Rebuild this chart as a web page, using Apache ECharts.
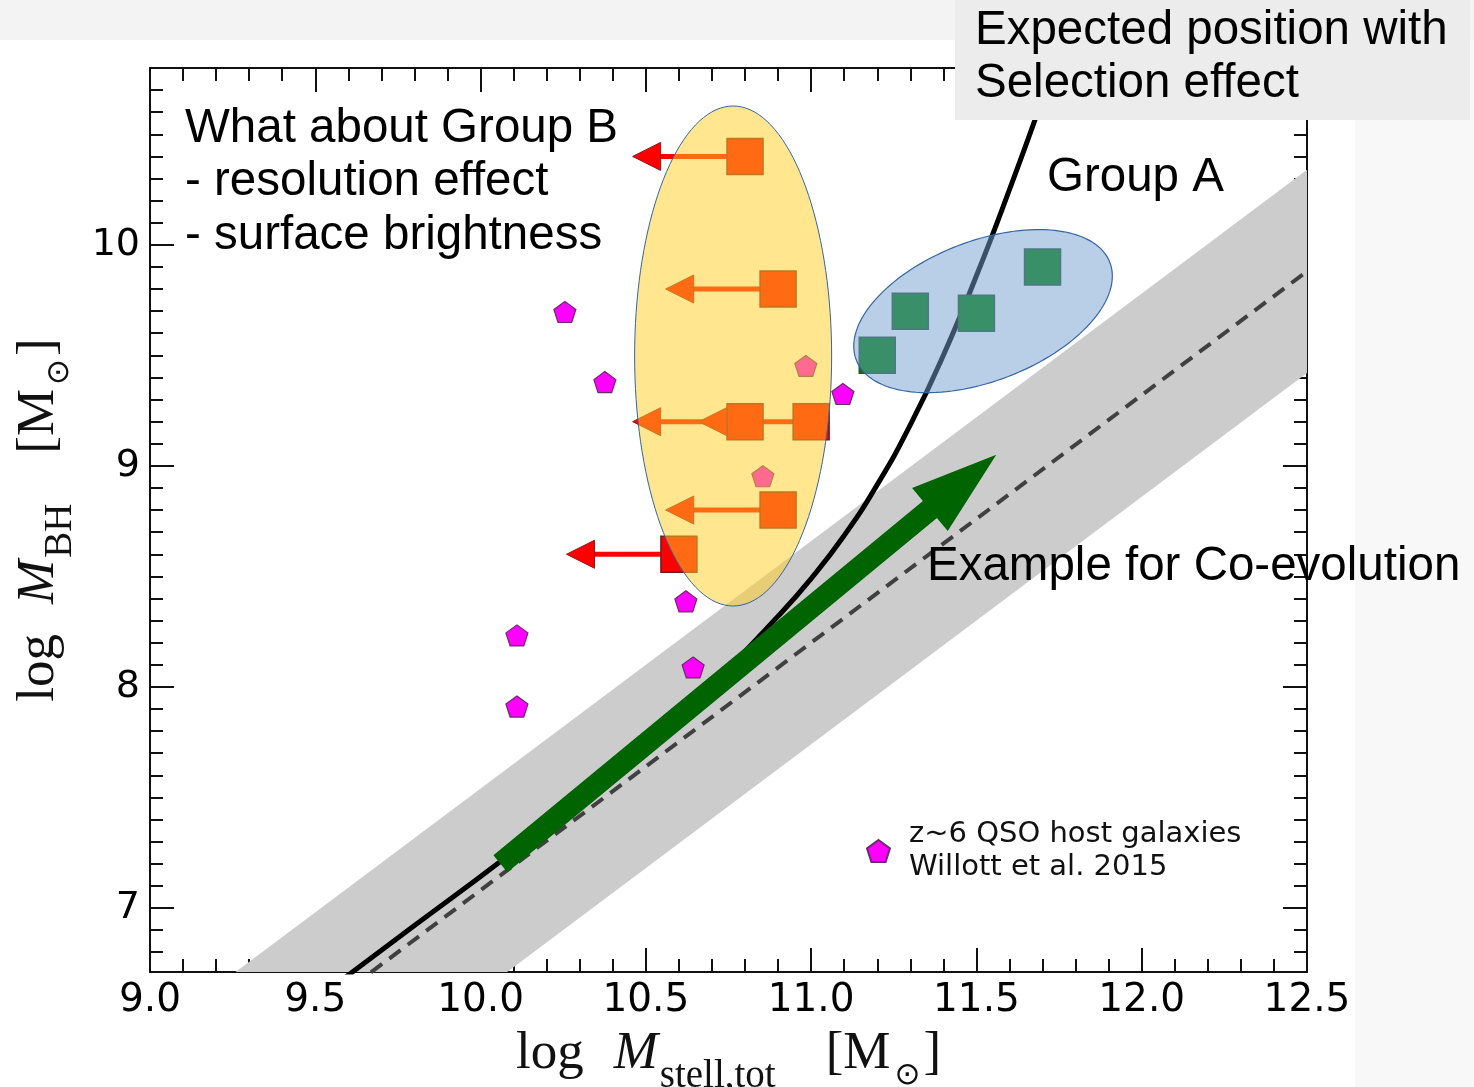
<!DOCTYPE html>
<html>
<head>
<meta charset="utf-8">
<script src="https://cdn.jsdelivr.net/npm/echarts@6/dist/echarts.min.js"></script>
<style>
  html, body { margin: 0; padding: 0; background: #ffffff; }
  #chart { width: 1474px; height: 1087px; }
</style>
</head>
<body>
<div id="chart"></div>
<script>
// Local black hole – stellar mass relation (Haring & Rix 2004) and its scatter
const relationX = [9.0, 12.5];
const relationY = [5.96, 9.88];
const relationScatter = 0.46;

// Expected relation once the luminosity selection effect is included
const selectionX = [9.55, 9.8, 10.06, 10.3, 10.5, 10.7, 10.9, 11.0, 11.1, 11.2, 11.3, 11.4, 11.5, 11.6, 11.7, 11.75];
const selectionY = [6.64, 6.92, 7.21, 7.49, 7.74, 8.01, 8.32, 8.49, 8.685, 8.915, 9.185, 9.50, 9.86, 10.25, 10.66, 10.87];

// z~6 QSO host galaxies (Willott et al. 2015)
const willottX = [10.255, 10.376, 10.110, 10.110, 10.621, 10.643, 11.096, 10.984, 10.854];
const willottY = [9.696, 9.379, 8.233, 7.911, 8.387, 8.088, 9.325, 9.452, 8.953];

// Group A
const groupAX = [11.20, 11.30, 11.50, 11.70];
const groupAY = [9.50, 9.70, 9.69, 9.90];

// Group B: stellar masses are upper limits
const groupBX = [10.80, 10.90, 10.80, 11.00, 10.90, 10.60];
const groupBY = [10.40, 9.80, 9.20, 9.20, 8.80, 8.60];
const groupBLimitX = [10.46, 10.56, 10.46, 10.66, 10.56, 10.26];

// Regions that outline the two groups (centre and semi-axes in axis units)
const groupBRegion = [10.764, 9.497, 0.298, 1.131];
const groupARegion = [11.52, 9.70, 0.411, 0.317];
const groupAAngle = 21;

// Co-evolution example track
const coevoX = [10.06, 11.56];
const coevoY = [7.20, 9.05];

// Axis ticks
const xTicks = [9.0, 9.5, 10.0, 10.5, 11.0, 11.5, 12.0, 12.5];
const yTicks = [7, 8, 9, 10];

const willottName = 'z~6 QSO host galaxies\nWillott et al. 2015';
const pentagon = 'path://M0,-10 L9.511,-3.09 L5.878,8.09 L-5.878,8.09 L-9.511,-3.09 Z';

const chart = echarts.init(document.getElementById('chart'), null, { renderer: 'canvas' });

const axisColor = '#111111';
function xAxisBase(pos, labels) {
  return {
    type: 'value', position: pos, min: xTicks[0], max: xTicks[xTicks.length - 1], interval: 0.5,
    axisLine: { onZero: false, lineStyle: { color: axisColor, width: 2 } },
    axisTick: { inside: true, length: 24, lineStyle: { color: axisColor, width: 2 } },
    minorTick: { show: true, splitNumber: 5, length: 13, lineStyle: { color: axisColor, width: 2 } },
    splitLine: { show: false }, minorSplitLine: { show: false },
    axisLabel: labels ? {
      show: true, margin: 9, color: '#000', fontFamily: 'DejaVu Sans', fontSize: 39,
      formatter: v => v.toFixed(1)
    } : { show: false }
  };
}
function yAxisBase(pos, labels) {
  return {
    type: 'value', position: pos, min: 6.71, max: 10.80,
    minInterval: 1, maxInterval: 1, splitNumber: 4,
    axisLine: { onZero: false, lineStyle: { color: axisColor, width: 2 } },
    axisTick: { inside: true, length: 24, lineStyle: { color: axisColor, width: 2 } },
    minorTick: { show: true, splitNumber: 10, length: 13, lineStyle: { color: axisColor, width: 2 } },
    splitLine: { show: false }, minorSplitLine: { show: false },
    axisLabel: labels ? {
      show: true, margin: 10, color: '#000', fontFamily: 'DejaVu Sans', fontSize: 38,
      showMinLabel: false, showMaxLabel: false,
      formatter: v => (yTicks.indexOf(Math.round(v * 100) / 100) >= 0 ? String(Math.round(v)) : '')
    } : { show: false }
  };
}

const nameRich = {
  n: { fontFamily: 'Liberation Serif', fontSize: 53, color: '#111', lineHeight: 56, verticalAlign: 'top' },
  i: { fontFamily: 'Liberation Serif', fontStyle: 'italic', fontSize: 53, color: '#111', lineHeight: 56, verticalAlign: 'top', padding: [0, 0, 0, 30] },
  s: { fontFamily: 'Liberation Serif', fontSize: 39, color: '#111', lineHeight: 38, verticalAlign: 'top', padding: [29, 0, 0, 2] },
  b: { fontFamily: 'Liberation Serif', fontSize: 53, color: '#111', lineHeight: 56, verticalAlign: 'top', padding: [0, 0, 0, 50] },
  o: { fontFamily: 'DejaVu Sans', fontSize: 31, color: '#111', lineHeight: 32, verticalAlign: 'top', padding: [32, 3, 0, 4] }
};

const xBottom = xAxisBase('bottom', true);
xBottom.name = '{n|log}{i|M}{s|stell,tot}{b|[M}{o|\u2299}{n|]}';
xBottom.nameLocation = 'middle';
xBottom.nameGap = 56;
xBottom.nameTextStyle = { rich: nameRich };

const yLeft = yAxisBase('left', true);
yLeft.name = '{n|log}{i|M}{s|BH}{b|[M}{o|\u2299}{n|]}';
yLeft.nameLocation = 'middle';
yLeft.nameRotate = 90;
yLeft.nameGap = 68;
yLeft.nameTextStyle = { rich: nameRich };

function ellipsePoints(cx, cy, rx, ry, angleDeg) {
  const pts = [];
  const t = -angleDeg * Math.PI / 180;
  for (let k = 0; k < 144; k++) {
    const a = k / 144 * Math.PI * 2;
    const ex = rx * Math.cos(a), ey = ry * Math.sin(a);
    pts.push([cx + ex * Math.cos(t) - ey * Math.sin(t), cy + ex * Math.sin(t) + ey * Math.cos(t)]);
  }
  return pts;
}

const option = {
  backgroundColor: '#ffffff',
  animation: false,
  grid: { left: 150, top: 68, right: 167, bottom: 115, containLabel: false, outerBoundsMode: 'none' },
  xAxis: [xBottom, xAxisBase('top', false)],
  yAxis: [yLeft, yAxisBase('right', false)],
  legend: {
    data: [{ name: willottName, icon: pentagon }],
    left: 861, top: 813, orient: 'vertical', selectedMode: false,
    itemWidth: 23, itemHeight: 22,
    textStyle: { fontFamily: 'DejaVu Sans', fontSize: 29, lineHeight: 33, color: '#111', padding: [0, 0, 0, 14] }
  },
  graphic: [
    { type: 'rect', z: -10, silent: true, shape: { x: 0, y: 0, width: 1474, height: 40 }, style: { fill: '#f3f3f3' } },
    { type: 'rect', z: -10, silent: true, shape: { x: 1355, y: 40, width: 119, height: 1047 }, style: { fill: '#f8f8f8' } },
    { type: 'rect', z: 100, silent: true, shape: { x: 955, y: 0, width: 515, height: 120 }, style: { fill: '#ececec' } },
    { type: 'text', z: 101, x: 975, y: 4.5, style: { text: 'Expected position with\nSelection effect', fontFamily: 'Liberation Sans', fontSize: 47.5, lineHeight: 53, fill: '#000', verticalAlign: 'top' } },
    { type: 'text', z: 101, x: 185, y: 102, style: { text: 'What about Group B\n- resolution effect\n- surface brightness', fontFamily: 'Liberation Sans', fontSize: 47.5, lineHeight: 53.5, fill: '#000', verticalAlign: 'top' } },
    { type: 'text', z: 101, x: 1047, y: 177.5, style: { text: 'Group A', fontFamily: 'Liberation Sans', fontSize: 47.5, fill: '#000', verticalAlign: 'middle' } },
    { type: 'text', z: 101, x: 927, y: 566.5, style: { text: 'Example for Co-evolution', fontFamily: 'Liberation Sans', fontSize: 47.5, fill: '#000', verticalAlign: 'middle' } }
  ],
  series: [
    {
      // scatter band around the local relation
      type: 'custom', name: 'band', clip: true, silent: true, z: 1,
      data: [[relationX[0], relationY[0]]],
      renderItem(params, api) {
        const pts = [
          api.coord([relationX[0], relationY[0] + relationScatter]),
          api.coord([relationX[1], relationY[1] + relationScatter]),
          api.coord([relationX[1], relationY[1] - relationScatter]),
          api.coord([relationX[0], relationY[0] - relationScatter])
        ];
        return { type: 'polygon', shape: { points: pts }, style: { fill: '#cccccc' } };
      }
    },
    {
      type: 'line', name: 'local relation', silent: true, showSymbol: false, clip: true, z: 2,
      data: relationX.map((x, i) => [x, relationY[i]]),
      lineStyle: { color: '#404040', width: 4, type: [14, 9] }
    },
    {
      type: 'line', name: 'selection', silent: true, showSymbol: false, clip: true, z: 2,
      smooth: 0.5,
      data: selectionX.map((x, i) => [x, selectionY[i]]),
      lineStyle: { color: '#000000', width: 5 }
    },
    {
      type: 'scatter', name: willottName, symbol: pentagon, symbolSize: [22, 21], z: 2,
      data: willottX.map((x, i) => [x, willottY[i]]),
      itemStyle: { color: '#ff00ff', borderColor: '#6e2a6e', borderWidth: 1.2, opacity: 1 }
    },
    {
      // upper-limit arrows of Group B
      type: 'custom', name: 'limits', silent: true, z: 2,
      data: groupBX.map((x, i) => [x, groupBY[i], groupBLimitX[i]]),
      encode: { x: 0, y: 1 },
      renderItem(params, api) {
        const p = api.coord([api.value(0), api.value(1)]);
        const tip = api.coord([api.value(2), api.value(1)]);
        const headLen = 28, headHalf = 14;
        return {
          type: 'group',
          children: [
            { type: 'line', shape: { x1: p[0], y1: p[1], x2: tip[0] + headLen - 2, y2: p[1] }, style: { stroke: '#ff0000', lineWidth: 5 } },
            { type: 'polygon', shape: { points: [[tip[0], p[1]], [tip[0] + headLen, p[1] - headHalf], [tip[0] + headLen, p[1] + headHalf]] },
              style: { fill: '#ff0000', stroke: '#8b1a1a', lineWidth: 1 } }
          ]
        };
      }
    },
    {
      type: 'scatter', name: 'Group B', symbol: 'rect', symbolSize: 36, z: 2,
      data: groupBX.map((x, i) => [x, groupBY[i]]),
      itemStyle: { color: '#ff0000', borderColor: '#7a1a1a', borderWidth: 1.5, opacity: 1 }
    },
    {
      type: 'custom', name: 'Group B region', silent: true, z: 3,
      data: [[groupBRegion[0], groupBRegion[1]]],
      renderItem(params, api) {
        const c = api.coord([groupBRegion[0], groupBRegion[1]]);
        const rx = api.size([groupBRegion[2], 0])[0];
        const ry = api.size([0, groupBRegion[3]])[1];
        return { type: 'polygon', shape: { points: ellipsePoints(c[0], c[1], rx, ry, 0) },
          style: { fill: 'rgba(255,206,37,0.514)', stroke: '#3465a4', lineWidth: 1 } };
      }
    },
    {
      type: 'scatter', name: 'Group A', symbol: 'rect', symbolSize: 36, z: 3,
      data: groupAX.map((x, i) => [x, groupAY[i]]),
      itemStyle: { color: '#008000', borderColor: '#2f4f3a', borderWidth: 1.5, opacity: 1 }
    },
    {
      type: 'custom', name: 'Group A region', silent: true, z: 4,
      data: [[groupARegion[0], groupARegion[1]]],
      renderItem(params, api) {
        const c = api.coord([groupARegion[0], groupARegion[1]]);
        const a = api.size([groupARegion[2], 0])[0];
        const b = api.size([0, groupARegion[3]])[1];
        return { type: 'polygon', shape: { points: ellipsePoints(c[0], c[1], a, b, groupAAngle) },
          style: { fill: 'rgba(114,159,207,0.5)', stroke: '#3465a4', lineWidth: 1.2 } };
      }
    },
    {
      type: 'custom', name: 'co-evolution', silent: true, z: 5,
      data: [[coevoX[0], coevoY[0]]],
      renderItem(params, api) {
        const s = api.coord([coevoX[0], coevoY[0]]);
        const e = api.coord([coevoX[1], coevoY[1]]);
        const dx = e[0] - s[0], dy = e[1] - s[1];
        const len = Math.hypot(dx, dy);
        const ux = dx / len, uy = dy / len, nx = -uy, ny = ux;
        const w = 11, hw = 28, hl = 86;
        const bx = e[0] - ux * hl, by = e[1] - uy * hl;
        const pts = [
          [s[0] + nx * w, s[1] + ny * w],
          [bx + nx * w, by + ny * w],
          [bx + nx * hw, by + ny * hw],
          [e[0], e[1]],
          [bx - nx * hw, by - ny * hw],
          [bx - nx * w, by - ny * w],
          [s[0] - nx * w, s[1] - ny * w]
        ];
        return { type: 'polygon', shape: { points: pts }, style: { fill: '#006400' } };
      }
    }
  ]
};

chart.setOption(option);
</script>
</body>
</html>
